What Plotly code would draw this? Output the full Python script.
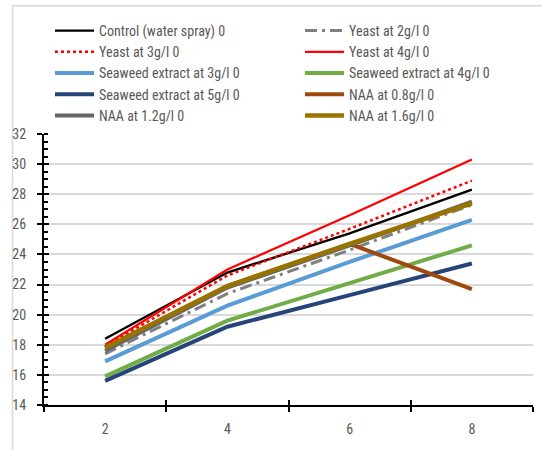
import plotly.graph_objects as go

x_days = [2, 4, 6, 8]
control = [18.4, 22.8, 25.4, 28.3]
yeast_2 = [17.4, 21.4, 24.3, 27.3]
yeast_3 = [17.9, 22.6, 25.7, 28.9]
yeast_4 = [18.0, 23.0, 26.6, 30.3]
seaweed_3 = [16.9, 20.6, 23.5, 26.3]
seaweed_4 = [15.9, 19.6, 22.1, 24.6]
seaweed_5 = [15.6, 19.2, 21.3, 23.4]
naa_08 = [17.8, 21.9, 24.7, 21.7]
naa_12 = [17.6, 21.8, 24.6, 27.5]
naa_16 = [17.8, 21.9, 24.7, 27.4]

names = ["Control (water spray) 0", "Yeast at 2g/l 0", "Yeast at 3g/l 0", "Yeast at 4g/l 0",
         "Seaweed extract at 3g/l 0", "Seaweed extract at 4g/l 0", "Seaweed extract at 5g/l 0",
         "NAA at 0.8g/l 0", "NAA at 1.2g/l 0", "NAA at 1.6g/l 0"]
series = [control, yeast_2, yeast_3, yeast_4, seaweed_3, seaweed_4, seaweed_5, naa_08, naa_12, naa_16]
styles = [
    dict(color="#000000", width=2.4, dash="solid"),
    dict(color="#7f7f7f", width=3, dash="12px,5px,3px,5px"),
    dict(color="#ff0000", width=2.5, dash="dot"),
    dict(color="#ff0000", width=2.2, dash="solid"),
    dict(color="#5b9bd5", width=4, dash="solid"),
    dict(color="#70ad47", width=4, dash="solid"),
    dict(color="#264478", width=4, dash="solid"),
    dict(color="#9e480e", width=4, dash="solid"),
    dict(color="#666666", width=4, dash="solid"),
    dict(color="#997300", width=4.5, dash="solid"),
]

FONT = "Roboto Condensed, DejaVu Sans Condensed, sans-serif"
TXT = "#595959"

fig = go.Figure()
for i, (n, s, st) in enumerate(zip(names, series, styles)):
    fig.add_trace(go.Scatter(x=x_days, y=s, mode="lines", name=n, line=st,
                             legend="legend" if i % 2 == 0 else "legend2"))

leg_common = dict(orientation="v", xref="container", yref="container",
                  xanchor="left", yanchor="top", bgcolor="rgba(0,0,0,0)", itemwidth=39,
                  font=dict(family=FONT, size=14, color=TXT), traceorder="normal")

fig.update_layout(
    width=542, height=450,
    margin=dict(l=44, r=9, t=134, b=44.5, autoexpand=False),
    paper_bgcolor="white", plot_bgcolor="white",
    font=dict(family=FONT, size=14, color=TXT),
    showlegend=True,
    legend=dict(x=50 / 542, y=1 - 15 / 450, **leg_common),
    legend2=dict(x=300 / 542, y=1 - 15 / 450, **leg_common),
    xaxis=dict(range=[1, 9], tickvals=[2, 4, 6, 8], ticks="", showgrid=False,
               showline=True, linecolor="black", linewidth=2, zeroline=False,
               ticklabelstandoff=10,
               minor=dict(tick0=1, dtick=2, ticks="outside", ticklen=5, tickwidth=2,
                          tickcolor="black", showgrid=False)),
    xaxis2=dict(range=[1, 9], overlaying="x", tickvals=[1, 3, 5, 7, 9], ticks="inside",
                ticklen=5, tickwidth=2, tickcolor="black", showticklabels=False,
                showgrid=False, showline=False, zeroline=False, side="bottom", anchor="y"),
    yaxis=dict(range=[14, 32], dtick=2, tick0=14, ticks="outside", ticklen=5, tickwidth=2,
               tickcolor="black", showline=True, linecolor="black", linewidth=2,
               showgrid=True, gridcolor="#d9d9d9", gridwidth=1.5, zeroline=False,
               ticklabelstandoff=8,
               minor=dict(dtick=0.5, ticks="inside", ticklen=4, tickwidth=1.5,
                          tickcolor="black", showgrid=False)),
    yaxis2=dict(range=[14, 32], overlaying="y", dtick=2, tick0=14, ticks="inside",
                ticklen=5, tickwidth=2, tickcolor="black", showticklabels=False,
                showgrid=False, showline=False, zeroline=False, side="left", anchor="x"),
    shapes=[dict(type="rect", xref="paper", yref="paper",
                 x0=(12.5 - 44) / 489, x1=1.2, y0=-0.4, y1=(405.5 - 5.5) / 271.5,
                 line=dict(color="#d9d9d9", width=1.5), fillcolor="rgba(0,0,0,0)", layer="below")],
)
# invisible helper trace so the overlay axes (tick marks) are drawn
fig.add_trace(go.Scatter(x=[1], y=[14], xaxis="x2", yaxis="y2", mode="markers",
                         marker=dict(opacity=0), showlegend=False, hoverinfo="skip"))

fig.write_html("out.html", config={"displayModeBar": False},
               post_script="document.body.style.margin='0';document.body.style.overflow='hidden';")
